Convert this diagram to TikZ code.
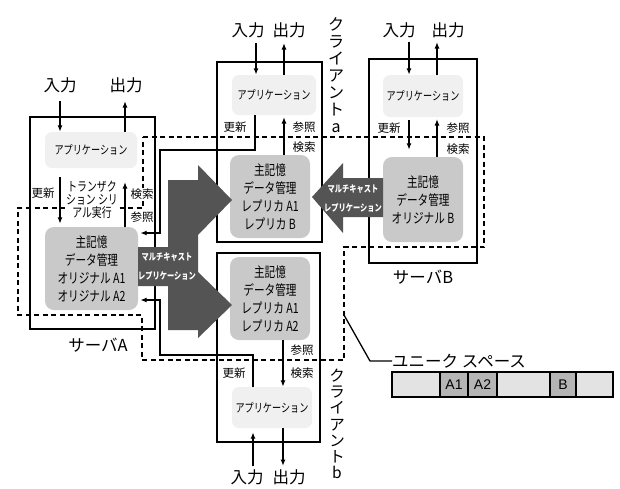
\documentclass[tikz,border=0pt]{standalone}
\usepackage{fontspec}
\newfontfamily\jp{Noto Sans CJK JP}
\newfontfamily\jpn[FakeStretch=0.76]{Noto Sans CJK JP}
\usetikzlibrary{arrows.meta}
\definecolor{appfill}{gray}{0.94}
\definecolor{memfill}{gray}{0.79}
\definecolor{mcdark}{gray}{0.33}
\definecolor{barlight}{gray}{0.89}
\definecolor{bardark}{gray}{0.71}
\tikzset{
 frame/.style={draw=black,line width=1.5pt},
 appnode/.style={fill=appfill,rounded corners=7pt,inner sep=0pt,font=\jpn\fontsize{12}{14}\selectfont},
 memnode/.style={fill=memfill,rounded corners=9pt,inner sep=0pt,align=center,font=\jpn\fontsize{14}{18}\selectfont},
 lab/.style={fill=white,inner sep=0.6pt,font=\jp\fontsize{11.5}{13}\selectfont},
 iolab/.style={inner sep=0pt,font=\jp\fontsize{16.5}{18}\selectfont},
 arr/.style={line width=1.5pt,-{Latex[length=6.5pt,width=5pt]}},
 dlayer/.style={line width=1.3pt,dash pattern=on 5pt off 3.5pt},
 mctext/.style={text=white,inner sep=0pt,align=center,font=\jpn\bfseries\fontsize{9.5}{19}\selectfont},
 vlab/.style={inner sep=0pt,align=center,font=\jp\fontsize{16}{17}\selectfont},
 cell/.style={inner sep=0pt,font=\fontspec{Liberation Sans}\fontsize{14}{14}\selectfont},
}
\begin{document}
\begin{tikzpicture}[x=1pt,y=-1pt]
\useasboundingbox (0,0) rectangle (620,488);
\fill[white] (0,0) rectangle (620,488);
% dashed data-management layer
\draw[dlayer] (143,137) -- (484,137) -- (484,247) -- (344,247) -- (344,360) -- (142,360) -- (142,315) -- (18,315) -- (18,208) -- (143,208) -- cycle;
% frames
\draw[frame] (30,117) rectangle (155,329);
\draw[frame] (217,62) rectangle (322,242);
\draw[frame] (217,253) rectangle (320,442);
\draw[frame] (369,59) rectangle (477,263);
% nodes
\node[appnode,minimum width=92pt,minimum height=36pt] (appA) at (91,150) {アプリケーション};
\node[memnode,minimum width=93pt,minimum height=83pt] (memA) at (91.5,268.5) {主記憶\\データ管理\\オリジナル A1\\オリジナル A2};
\node[appnode,minimum width=84pt,minimum height=40pt] (appa) at (274,95) {アプリケーション};
\node[memnode,minimum width=80pt,minimum height=83pt] (mema) at (270,196.5) {主記憶\\データ管理\\レプリカ A1\\レプリカ B};
\node[appnode,minimum width=80pt,minimum height=42pt] (appB) at (423,96) {アプリケーション};
\node[memnode,minimum width=80pt,minimum height=85pt] (memB) at (423,199.5) {主記憶\\データ管理\\オリジナル B};
\node[memnode,minimum width=80pt,minimum height=83pt] (memb) at (270,298.5) {主記憶\\データ管理\\レプリカ A1\\レプリカ A2};
\node[appnode,minimum width=80pt,minimum height=41pt] (appb) at (272,407.5) {アプリケーション};
% server A arrows
\coordinate (inA) at (60,101); \coordinate (outA) at (125,101);
\draw[arr] (inA) -- (inA |- appA.north);
\draw[arr] (outA |- appA.north) -- (outA);
\coordinate (updA) at (60,177);
\draw[arr,shorten >=3pt] (updA) -- (updA |- memA.north);
\coordinate (refA) at (125,182);
\draw[arr] (refA |- memA.north) -- (refA);
% client a arrows
\coordinate (ina) at (256,43); \coordinate (outa) at (284,43);
\draw[arr] (ina) -- (ina |- appa.north);
\draw[arr] (outa |- appa.north) -- (outa);
\coordinate (refa) at (284,117);
\draw[arr] (refa |- mema.north) -- (refa);
\coordinate (ua1) at (255,150); \coordinate (ua2) at (160,233);
\draw[arr,shorten >=2pt] (appa.south -| ua1) -- (ua1) -| (ua2) -- (memA.east |- ua2);
% server B arrows
\coordinate (inB) at (409,42); \coordinate (outB) at (437,42);
\draw[arr] (inB) -- (inB |- appB.north);
\draw[arr] (outB |- appB.north) -- (outB);
\coordinate (updB) at (409,120);
\draw[arr,shorten >=7pt] (updB) -- (updB |- memB.north);
\coordinate (refB) at (437,119);
\draw[arr] (refB |- memB.north) -- (refB);
% client b arrows
\coordinate (refb) at (283,385);
\draw[arr] (refb |- memb.south) -- (refb |- appb.north);
\coordinate (inb) at (253,466); \coordinate (outb) at (283,466);
\draw[arr,shorten >=4pt] (inb) -- (inb |- appb.south);
\draw[arr] (outb |- appb.south) -- (outb);
\coordinate (ub1) at (253,355); \coordinate (ub2) at (160,300);
\draw[arr,shorten >=2pt] (appb.north -| ub1) -- (ub1) -| (ub2) -- (memA.east |- ub2);
% multicast shapes
\fill[mcdark] (168,180) -- (198,180) -- (198,165) -- (232,200) -- (198,235) -- (198,272) -- (232,305) -- (198,338) -- (198,330) -- (168,330) -- (168,286) -- (138,286) -- (138,247) -- (168,247) -- cycle;
\node[mctext] (mcA) at (167,266) {マルチキャスト\\レプリケーション};
\fill[mcdark] (383,178) -- (343,178) -- (343,163) -- (312,197) -- (343,233) -- (343,217) -- (383,217) -- cycle;
\node[mctext] (mcB) at (353,198) {マルチキャスト\\レプリケーション};
% small labels
\node[lab] (uA) at (43,193) {更新};
\node[fill=white,inner sep=0.5pt,align=center,font=\jpn\fontsize{13}{13}\selectfont] (trA) at (92,200) {トランザク\\ション シリ\\アル実行};
\node[lab] (kA) at (142,194) {検索};
\node[lab] (sA) at (142,217) {参照};
\node[lab] (ua) at (235,127) {更新};
\node[lab] (sa) at (304,127) {参照};
\node[lab] (ka) at (304,147) {検索};
\node[lab] (uB) at (389,128) {更新};
\node[lab] (sB) at (458,128) {参照};
\node[lab] (kB) at (458,149) {検索};
\node[lab] (sb) at (302,350) {参照};
\node[lab] (kb) at (302,373) {検索};
\node[lab] (ub) at (234,373) {更新};
% io labels
\node[iolab] (iA) at (60,85) {入力};
\node[iolab] (oA) at (126,85) {出力};
\node[iolab] (ia) at (248,30) {入力};
\node[iolab] (oa) at (289,30) {出力};
\node[iolab] (iB) at (399,30) {入力};
\node[iolab] (oB) at (448,30) {出力};
\node[iolab] (ib) at (247,477) {入力};
\node[iolab] (ob) at (289,477) {出力};
% server / client labels
\node[iolab] (svA) at (98,345) {サーバA};
\node[iolab] (svB) at (423,277) {サーバB};
\node[vlab] (cla) at (336,75) {ク\\ラ\\イ\\ア\\ン\\ト\\a};
\node[vlab,font=\jp\fontsize{15.5}{16.2}\selectfont] (clb) at (337,424) {ク\\ラ\\イ\\ア\\ン\\ト\\b};
% unique space
\coordinate (ld) at (344,315);
\node[iolab,anchor=west] (usp) at (392,361) {ユニーク スペース};
\draw[line width=1.3pt] (ld) -- (370,361) -- (usp.west);
\fill[barlight] (392,372) rectangle (613,397);
\fill[bardark] (440,372) rectangle (497,397);
\fill[bardark] (550,372) rectangle (576,397);
\draw[line width=1.3pt] (392,372) rectangle (613,397);
\foreach \xx in {440,468,497,550,576} \draw[line width=1.3pt] (\xx,372) -- (\xx,397);
\node[cell] (cA1) at (454,385) {A1};
\node[cell] (cA2) at (482.5,385) {A2};
\node[cell] (cB) at (563,385) {B};
\end{tikzpicture}
\end{document}
